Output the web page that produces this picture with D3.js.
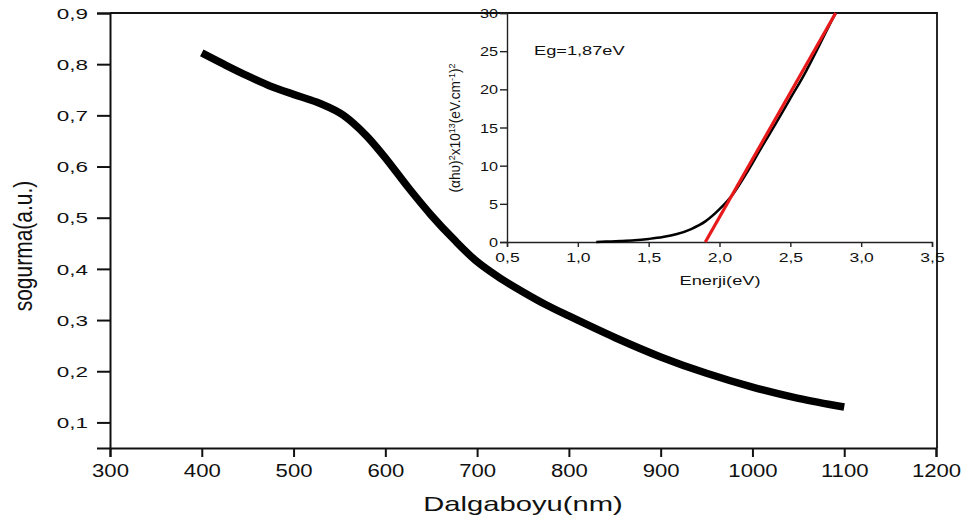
<!DOCTYPE html>
<html>
<head>
<meta charset="utf-8">
<script src="https://cdn.jsdelivr.net/npm/d3@7"></script>
<style>
  body { margin: 0; background: #fff; }
  text { font-family: "Liberation Sans", Arial, sans-serif; fill: #111; }
</style>
</head>
<body>
<div id="chart"></div>
<script>
// main curve: absorbance vs wavelength
const wavelength = [400, 425, 450, 475, 500, 525, 550, 565, 580, 600, 625, 650, 675, 700, 725, 750, 775, 800, 850, 900, 950, 1000, 1050, 1100];
const absorbance = [0.822, 0.799, 0.777, 0.757, 0.741, 0.726, 0.705, 0.685, 0.659, 0.617, 0.559, 0.505, 0.457, 0.414, 0.382, 0.355, 0.330, 0.308, 0.266, 0.228, 0.196, 0.169, 0.147, 0.130];

// inset: tauc plot
const energy = [1.13, 1.2, 1.3, 1.4, 1.5, 1.6, 1.7, 1.8, 1.9, 2.0, 2.1, 2.2, 2.3, 2.4, 2.5, 2.6, 2.7, 2.8, 2.82];
const tauc = [0, 0.05, 0.12, 0.22, 0.4, 0.65, 1.05, 1.7, 2.7, 4.3, 6.4, 9.3, 12.5, 15.6, 18.8, 22.0, 25.6, 29.3, 30];
const fitEnergy = [1.90, 2.82];
const fitTauc = [0, 30];

const mainXTicks = [300, 400, 500, 600, 700, 800, 900, 1000, 1100, 1200];
const mainYTicks = [0.1, 0.2, 0.3, 0.4, 0.5, 0.6, 0.7, 0.8, 0.9];
const insetXTicks = [0.5, 1.0, 1.5, 2.0, 2.5, 3.0, 3.5];
const insetYTicks = [0, 5, 10, 15, 20, 25, 30];

const comma = d => d3.format(".1f")(d).replace(".", ",");

const svg = d3.select("#chart").append("svg")
  .attr("width", 975)
  .attr("height", 527);

// scales
const x = d3.scaleLinear().domain([300, 1200]).range([110, 936]);
const y = d3.scaleLinear().domain([0.05, 0.9]).range([448, 13]);
const xi = d3.scaleLinear().domain([0.5, 3.5]).range([507, 932]);
const yi = d3.scaleLinear().domain([0, 30]).range([242, 13]);

// main frame (top + right)
svg.append("path")
  .attr("d", `M${x.range()[0]},${y.range()[1]}H${x.range()[1] + 1}V${y.range()[0]}`)
  .attr("fill", "none")
  .attr("stroke", "#111")
  .attr("stroke-width", 1.8);

// main x axis
const gx = svg.append("g").attr("transform", `translate(0,${y.range()[0]})`);
gx.call(d3.axisBottom(x).tickValues(d3.range(350, 1200, 100)).tickSize(5).tickFormat(""));
gx.call(d3.axisBottom(x).tickValues(mainXTicks).tickSize(9).tickFormat(d => d));
gx.selectAll("path, line").attr("stroke", "#111").attr("stroke-width", 2);
gx.selectAll("text")
  .attr("y", 29).attr("dy", null)
  .attr("font-size", 18)
  .attr("transform", "scale(1.23,1)");

// main y axis
const gy = svg.append("g").attr("transform", `translate(${x.range()[0]},0)`);
gy.call(d3.axisLeft(y).tickValues(d3.range(0.05, 0.9, 0.1)).tickSize(7).tickFormat(""));
gy.call(d3.axisLeft(y).tickValues(mainYTicks).tickSize(13).tickFormat(comma));
gy.selectAll("path, line").attr("stroke", "#111").attr("stroke-width", 2);
gy.selectAll("text")
  .attr("x", 0).attr("dy", "0.36em")
  .attr("font-size", 14.5)
  .attr("transform", "translate(-22,0) scale(1.55,1)");

// axis titles
svg.append("text")
  .attr("text-anchor", "middle")
  .attr("font-size", 21)
  .attr("transform", "translate(523,511) scale(1.39,1)")
  .text("Dalgaboyu(nm)");

svg.append("text")
  .attr("text-anchor", "middle")
  .attr("font-size", 21)
  .attr("transform", "translate(32,246) rotate(-90) scale(1,1.2)")
  .text("sogurma(a.u.)");

// main curve
const line = d3.line()
  .x((d, i) => x(wavelength[i]))
  .y(d => y(d))
  .curve(d3.curveCatmullRom.alpha(0.5));

svg.append("path")
  .datum(absorbance)
  .attr("d", line)
  .attr("fill", "none")
  .attr("stroke", "#000")
  .attr("stroke-width", 7.5);

// ---- inset ----
const ix = svg.append("g").attr("transform", `translate(0,${yi.range()[0]})`);
ix.call(d3.axisBottom(xi).tickValues(d3.range(0.75, 3.5, 0.5)).tickSize(3).tickFormat(""));
ix.call(d3.axisBottom(xi).tickValues(insetXTicks).tickSize(5).tickFormat(comma));
ix.selectAll("path, line").attr("stroke", "#222").attr("stroke-width", 1.4);
ix.selectAll("text")
  .attr("y", 20).attr("dy", null)
  .attr("font-size", 13.5)
  .attr("transform", "scale(1.3,1)");

const iy = svg.append("g").attr("transform", `translate(${xi.range()[0]},0)`);
iy.call(d3.axisLeft(yi).tickValues(d3.range(2.5, 30, 5)).tickSize(4).tickFormat(""));
iy.call(d3.axisLeft(yi).tickValues(insetYTicks).tickSize(7).tickFormat(d => d));
iy.selectAll("path, line").attr("stroke", "#222").attr("stroke-width", 1.4);
iy.selectAll("text")
  .attr("x", 0).attr("dy", "0.36em")
  .attr("font-size", 12.5)
  .attr("transform", "translate(-9,0) scale(1.3,1)");

svg.append("text")
  .attr("text-anchor", "middle")
  .attr("font-size", 13.5)
  .attr("transform", "translate(720,285) scale(1.35,1)")
  .text("Enerji(eV)");

svg.append("text")
  .attr("font-size", 13.5)
  .attr("transform", "translate(534,55) scale(1.35,1)")
  .text("Eg=1,87eV");

// inset y title with superscripts
const yt = svg.append("text")
  .attr("text-anchor", "middle")
  .attr("font-size", 14.5)
  .attr("transform", "translate(460,128) rotate(-90)")
  .attr("textLength", 129)
  .attr("lengthAdjust", "spacingAndGlyphs");
const parts = [["(αhυ)", 0], ["2", 1], ["x10", 0], ["13", 1], ["(eV.cm", 0], ["-1", 1], [")", 0], ["2", 1]];
parts.forEach(([t, sup]) => {
  yt.append("tspan")
    .attr("font-size", sup ? 9.5 : 14.5)
    .attr("baseline-shift", sup ? "super" : null)
    .text(t);
});

// tauc curve and linear fit
const tline = d3.line()
  .x((d, i) => xi(energy[i]))
  .y(d => yi(d))
  .curve(d3.curveMonotoneX);

svg.append("path")
  .datum(tauc)
  .attr("d", tline)
  .attr("fill", "none")
  .attr("stroke", "#000")
  .attr("stroke-width", 2.5);

svg.append("path")
  .datum(fitTauc)
  .attr("d", d3.line().x((d, i) => xi(fitEnergy[i])).y(d => yi(d)))
  .attr("fill", "none")
  .attr("stroke", "#e8191b")
  .attr("stroke-width", 3.2);
</script>
</body>
</html>
